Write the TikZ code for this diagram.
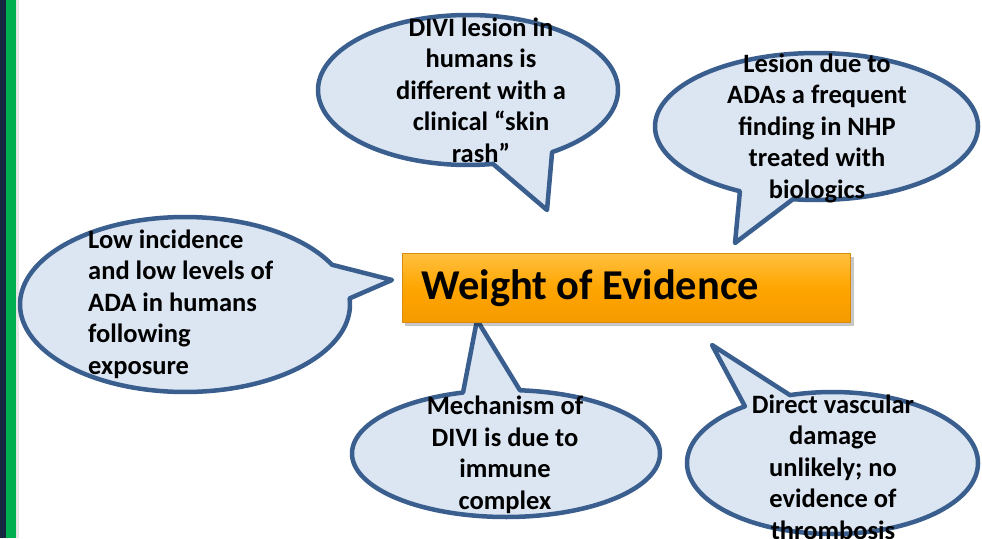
\documentclass[tikz,border=0pt]{standalone}
\usepackage{fontspec}
\setmainfont{Carlito}
\definecolor{calloutfill}{HTML}{DCE6F2}
\definecolor{calloutline}{HTML}{3A5F8E}
\definecolor{stripnavy}{HTML}{17273F}
\definecolor{stripgreen}{HTML}{00B050}
\definecolor{boxtop}{HTML}{FFC040}
\definecolor{boxmid}{HTML}{FFA500}
\definecolor{boxbot}{HTML}{F59A00}
\definecolor{boxedge}{HTML}{D98A10}
\begin{document}
\begin{tikzpicture}[x=1pt,y=-1pt,
  bubble/.style={fill=calloutfill, draw=calloutline, line width=4.5pt, line join=round},
  bubbletext/.style={font=\bfseries\fontsize{26.5}{31.5}\selectfont, align=center, inner sep=0pt, text=black},
  woebox/.style={draw=boxedge, line width=1pt, top color=boxtop, bottom color=boxbot, middle color=boxmid, minimum width=448pt, minimum height=69pt, inner sep=0pt},
  woetext/.style={font=\bfseries\fontsize{42.5}{50}\selectfont, inner sep=0pt, text=black}
]
\useasboundingbox (0,0) rectangle (982,538);
\fill[white] (0,0) rectangle (982,538);
% left strip
\fill[stripnavy] (0,0) rectangle (6,538);
\fill[stripgreen] (6,0) rectangle (16,538);
\fill[black!10] (16,0) rectangle (19,538);

% callout A (top)
\draw[bubble] plot[domain=80.4:415.9, samples=160] ({468+150*cos(\x)},{90+75*sin(\x)}) -- (547,210) -- cycle;
% callout B (top right)
\draw[bubble] plot[domain=118.3:458.4, samples=160] ({816.5+161.5*cos(\x)},{126.5+73.5*sin(\x)}) -- (735,243) -- cycle;
% callout C (left)
\draw[bubble] plot[domain=-4:333, samples=160] ({185+165*cos(\x)},{304.5+87.5*sin(\x)}) -- (392,280) -- cycle;
% callout D (bottom)
\draw[bubble] plot[domain=-84.8:253.8, samples=160] ({506+154*cos(\x)},{453.5+63.5*sin(\x)}) -- (477,320) -- cycle;
% callout E (bottom right)
\draw[bubble] plot[domain=-107:233, samples=160] ({832.5+145.5*cos(\x)},{463+71*sin(\x)}) -- (712,345) -- cycle;

% central box
\fill[black, opacity=0.22] (405,257) rectangle (854,326);
\node[woebox, anchor=north west] (woe) at (402,253) {};
\node[woetext, anchor=west] (woelabel) at (421,288) {Weight of Evidence};

% texts
\node[bubbletext] (divi) at (481,90) {DIVI lesion in\\humans is\\different with a\\clinical “skin\\rash”};
\node[bubbletext] (ada) at (817,128) {Lesion due to\\ADAs a frequent\\finding in NHP\\treated with\\biologics};
\node[bubbletext, align=left, anchor=west] (low) at (88,304) {Low incidence\\and low levels of\\ADA in humans\\following\\exposure};
\node[bubbletext] (mech) at (505,455) {Mechanism of\\DIVI is due to\\immune\\complex};
\node[bubbletext] (vasc) at (833,467) {Direct vascular\\damage\\unlikely; no\\evidence of\\thrombosis};
\end{tikzpicture}
\end{document}
